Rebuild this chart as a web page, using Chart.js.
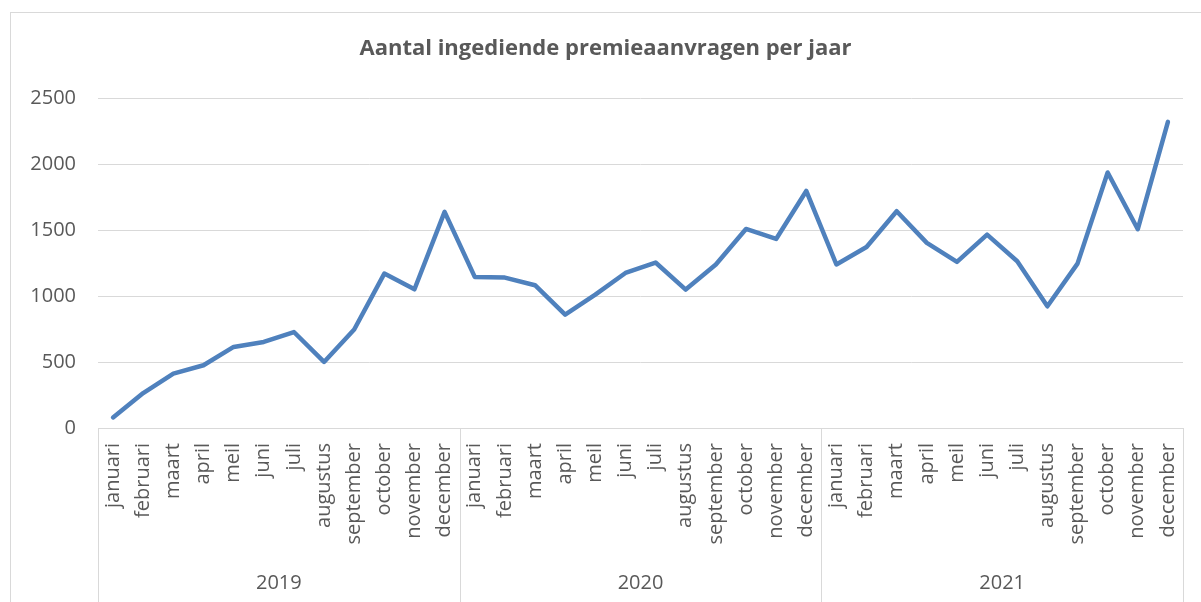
<!DOCTYPE html>
<html>
<head>
<meta charset="utf-8">
<script src="https://cdn.jsdelivr.net/npm/chart.js@4/dist/chart.umd.min.js"></script>
<style>
  html, body { margin: 0; padding: 0; background: #fff; overflow: hidden; }
  #kader { position: absolute; left: 10px; top: 12px; width: 1300px; height: 700px; border: 1px solid #d9d9d9; }
  #grafiek { position: absolute; left: 0; top: 0; }
</style>
</head>
<body>
<div id="kader"></div>
<canvas id="grafiek" width="1201" height="602"></canvas>
<script>
const maanden = ['januari', 'februari', 'maart', 'april', 'meil', 'juni', 'juli', 'augustus', 'september', 'october', 'november', 'december'];
const jaren = ['2019', '2020', '2021'];

// aantal aanvragen per maand, per jaar
const aanvragen2019 = [80, 265, 413, 476, 615, 653, 728, 501, 747, 1171, 1052, 1639];
const aanvragen2020 = [1146, 1141, 1083, 860, 1012, 1176, 1255, 1050, 1240, 1510, 1434, 1798];
const aanvragen2021 = [1240, 1373, 1644, 1404, 1260, 1467, 1265, 923, 1247, 1938, 1508, 2322];

const yTicks = [0, 500, 1000, 1500, 2000, 2500];

const labels = jaren.flatMap(() => maanden);
const waarden = [...aanvragen2019, ...aanvragen2020, ...aanvragen2021];

const grijs = '#d9d9d9';
const tekstKleur = '#595959';
const lettertype = { family: "'Open Sans', sans-serif", size: 20 };

// scheidingslijnen tussen de jaren onder de as
const jaarScheiding = {
    id: 'jaarScheiding',
    afterDraw(chart) {
        const x = chart.scales.x;
        const c = chart.ctx;
        c.save();
        c.strokeStyle = grijs;
        c.lineWidth = 1;
        for (let k = 0; k <= jaren.length; k++) {
            const px = Math.round(x.getPixelForValue(k * maanden.length - 0.5)) + 0.5;
            c.beginPath();
            c.moveTo(px, chart.chartArea.bottom);
            c.lineTo(px, chart.height);
            c.stroke();
        }
        c.restore();
    }
};

const ctx = document.getElementById('grafiek');

let chart = new Chart(ctx, {
    type: 'line',
    data: {
        labels: labels,
        datasets: [{
            label: 'aanvragen',
            data: waarden,
            borderColor: '#4f81bd',
            backgroundColor: '#4f81bd',
            borderWidth: 4.5,
            borderJoinStyle: 'round',
            borderCapStyle: 'round',
            pointRadius: 0,
            tension: 0
        }]
    },
    options: {
        responsive: false,
        animation: false,
        devicePixelRatio: 1,
        layout: { padding: { left: 28, right: 18, top: 0, bottom: 0 } },
        plugins: {
            legend: { display: false },
            tooltip: { enabled: false },
            title: {
                display: true,
                text: 'Aantal ingediende premieaanvragen per jaar',
                color: tekstKleur,
                font: { family: "'Open Sans', sans-serif", size: 22, weight: 'bold' },
                padding: { top: 36, bottom: 36 }
            }
        },
        scales: {
            y: {
                min: 0,
                max: 2500,
                afterFit: (scale) => { scale.width = 70; },
                afterBuildTicks: (scale) => { scale.ticks = yTicks.map(v => ({ value: v })); },
                ticks: { color: tekstKleur, font: lettertype, padding: 22, callback: (v) => String(v) },
                grid: { color: grijs, lineWidth: 1, drawTicks: false },
                border: { display: false }
            },
            x: {
                type: 'category',
                offset: true,
                afterFit: (scale) => { scale.height = 135; scale.paddingLeft = 0; scale.paddingRight = 0; },
                ticks: {
                    color: tekstKleur, font: lettertype, padding: 15,
                    autoSkip: false, maxRotation: 90, minRotation: 90
                },
                grid: { display: false, drawTicks: false },
                border: { display: true, color: grijs, width: 1 }
            },
            jaar: {
                type: 'category',
                position: 'bottom',
                labels: jaren,
                offset: true,
                afterFit: (scale) => { scale.height = 39; scale.paddingLeft = 0; scale.paddingRight = 0; },
                ticks: { color: tekstKleur, font: lettertype, padding: 8 },
                grid: { display: false, drawTicks: false },
                border: { display: false }
            }
        }
    },
    plugins: [jaarScheiding]
});
</script>
</body>
</html>
